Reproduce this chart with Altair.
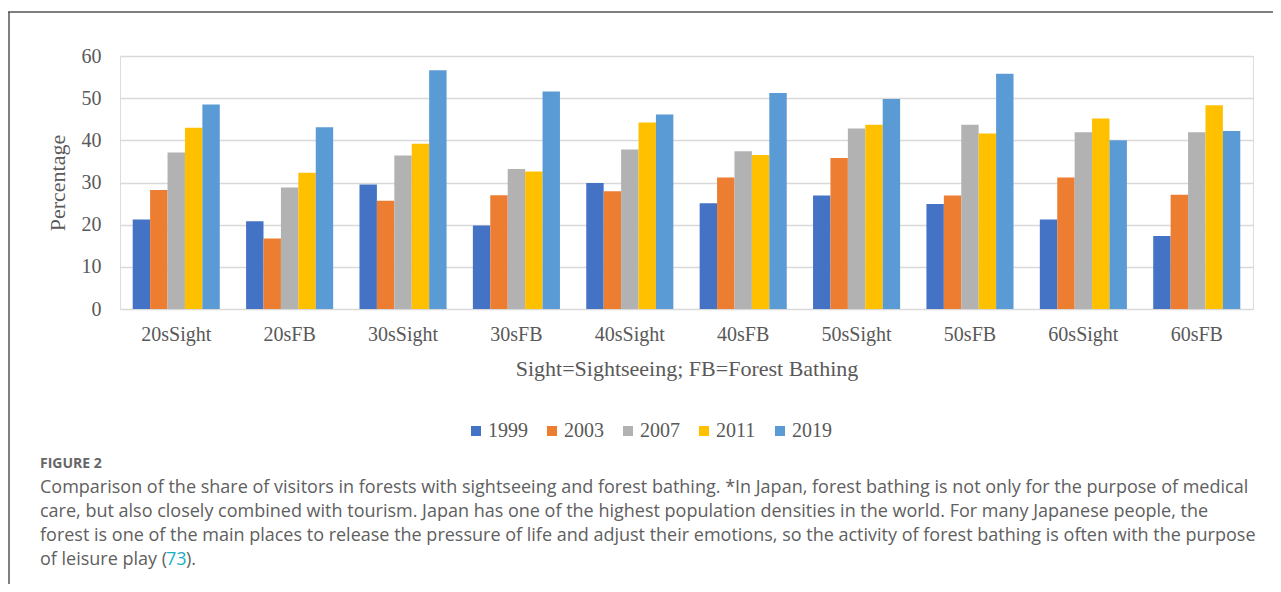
import altair as alt
import pandas as pd

groups = ["20sSight", "20sFB", "30sSight", "30sFB", "40sSight",
          "40sFB", "50sSight", "50sFB", "60sSight", "60sFB"]
years = ["1999", "2003", "2007", "2011", "2019"]
v1999 = [21.2, 20.8, 29.5, 19.8, 29.9, 25.1, 26.9, 24.9, 21.2, 17.3]
v2003 = [28.2, 16.7, 25.7, 27.0, 27.9, 31.2, 35.8, 26.9, 31.2, 27.1]
v2007 = [37.1, 28.8, 36.4, 33.2, 37.8, 37.4, 42.8, 43.7, 41.9, 41.9]
v2011 = [43.0, 32.3, 39.2, 32.6, 44.2, 36.5, 43.7, 41.6, 45.2, 48.3]
v2019 = [48.5, 43.1, 56.6, 51.6, 46.1, 51.2, 49.8, 55.8, 40.0, 42.2]
colors = ["#4472C4", "#ED7D31", "#B2B2B2", "#FFC000", "#5B9BD5"]

caption_head = "FIGURE 2"
caption_lines = [
    "Comparison of the share of visitors in forests with sightseeing and forest bathing. *In Japan, forest bathing is not only for the purpose of medical",
    "care, but also closely combined with tourism. Japan has one of the highest population densities in the world. For many Japanese people, the",
    "forest is one of the main places to release the pressure of life and adjust their emotions, so the activity of forest bathing is often with the purpose",
]
caption_last = ["of leisure play (", "73", ")."]

rows = []
for yr, vals in zip(years, [v1999, v2003, v2007, v2011, v2019]):
    for g, v in zip(groups, vals):
        rows.append({"group": g, "year": yr, "value": v})
df = pd.DataFrame(rows)

SERIF = "Liberation Serif"
SANS = "Open Sans"
TXT = "#595959"

bars = alt.Chart(df).mark_bar().encode(
    x=alt.X("group:N", sort=groups,
            scale=alt.Scale(paddingInner=0.232, paddingOuter=0.112),
            axis=alt.Axis(title="Sight=Sightseeing; FB=Forest Bathing", labelAngle=0,
                          labelFont=SERIF, labelFontSize=20, labelColor=TXT,
                          labelPadding=15, domain=False, ticks=False,
                          titleFont=SERIF, titleFontSize=22, titleFontWeight="normal",
                          titleColor=TXT, titlePadding=14)),
    xOffset=alt.XOffset("year:N", sort=years),
    y=alt.Y("value:Q", scale=alt.Scale(domain=[0, 60]),
            axis=alt.Axis(title="Percentage", values=[0, 10, 20, 30, 40, 50, 60],
                          labelFont=SERIF, labelFontSize=20, labelColor=TXT,
                          labelPadding=19, domain=False, ticks=False,
                          gridColor="#d9d9d9", gridWidth=1.5,
                          titleFont=SERIF, titleFontSize=22, titleFontWeight="normal",
                          titleColor=TXT, titlePadding=12)),
    color=alt.Color("year:N", sort=years,
                    scale=alt.Scale(domain=years, range=colors),
                    legend=alt.Legend(title=None, orient="none", direction="horizontal",
                                      legendX=346, legendY=365,
                                      symbolType="square", symbolSize=100,
                                      symbolStrokeWidth=0,
                                      labelFont=SERIF, labelFontSize=20, labelColor=TXT,
                                      labelOffset=2, columnPadding=14, padding=0)),
)

one = alt.Data(values=[{}])

def txt(s, x, y, size=18, color="#606060", font=SANS, weight="normal"):
    return alt.Chart(one).mark_text(align="left", baseline="middle", font=font,
                                    fontSize=size, color=color, fontWeight=weight).encode(
        x=alt.value(x), y=alt.value(y), text=alt.value(s))

layers = [bars]
layers.append(txt(caption_head, -80, 408, size=14, color="#666666", weight="bold"))
for i, line in enumerate(caption_lines):
    layers.append(txt(line, -80, 432 + 24 * i))
layers.append(txt(caption_last[0], -80, 504))
layers.append(txt(caption_last[1], 46, 504, color="#1AAFC8"))
layers.append(txt(caption_last[2], 66, 504))

frame_top = alt.Chart(one).mark_rule(color="#555555", strokeWidth=1.5).encode(
    x=alt.value(-112), x2=alt.value(1153), y=alt.value(-44))
frame_left = alt.Chart(one).mark_rule(color="#555555", strokeWidth=1.5).encode(
    x=alt.value(-111), y=alt.value(-44), y2=alt.value(528))
layers += [frame_top, frame_left]

chart = alt.layer(*layers).properties(
    width=1133, height=253,
    autosize=alt.AutoSizeParams(type="none"),
    padding={"left": 112, "top": 48, "right": 20, "bottom": 275},
).configure_view(stroke=None).configure(background="white")

chart.save("out.html", embed_options={"renderer": "svg", "actions": False})
